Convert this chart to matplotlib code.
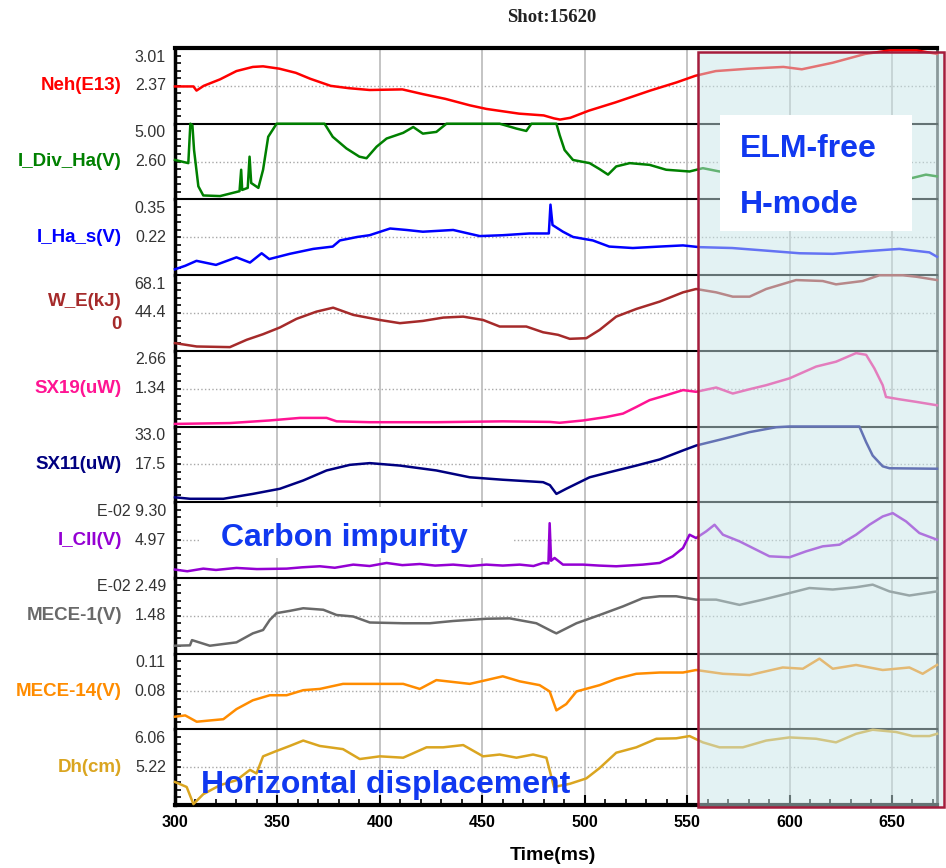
import numpy as np
import matplotlib.pyplot as plt
from matplotlib.patches import Rectangle
from matplotlib.ticker import MultipleLocator

plt.rcParams['font.family'] = ['Liberation Sans', 'DejaVu Sans']

# panel labels and the two y values printed on each panel
names = ['Neh(E13)', 'I_Div_Ha(V)', 'I_Ha_s(V)', 'W_E(kJ)\n0', 'SX19(uW)',
         'SX11(uW)', 'I_CII(V)', 'MECE-1(V)', 'MECE-14(V)', 'Dh(cm)']
top_labels = ['3.01', '5.00', '0.35', '68.1', '2.66', '33.0',
              'E-02 9.30', 'E-02 2.49', '0.11', '6.06']
mid_labels = ['2.37', '2.60', '0.22', '44.4', '1.34', '17.5',
              '4.97', '1.48', '0.08', '5.22']
top_vals = [3.01, 5.00, 0.35, 68.1, 2.66, 33.0, 9.30, 2.49, 0.11, 6.06]
mid_vals = [2.37, 2.60, 0.22, 44.4, 1.34, 17.5, 4.97, 1.48, 0.08, 5.22]
colors = ['#ff0000', '#008000', '#0000ff', '#a52a2a', '#ff1493',
          '#000080', '#9400d3', '#696969', '#ff8c00', '#daa520']

# traces (time in ms, value in panel units)
neh_t = [300, 309, 310.5, 314, 322, 330, 338, 343, 351, 359, 366, 376, 385, 395, 411, 421, 432, 444, 452, 460,
         468, 480, 485, 488, 493, 502, 515, 532, 545, 554, 564, 580, 597, 606, 621, 637, 649, 662, 672]
neh_v = [2.36, 2.36, 2.29, 2.37, 2.48, 2.62, 2.69, 2.70, 2.66, 2.59, 2.49, 2.37, 2.33, 2.30, 2.31, 2.23, 2.15, 2.04, 1.98, 1.94,
         1.90, 1.87, 1.82, 1.80, 1.83, 1.95, 2.09, 2.29, 2.43, 2.54, 2.62, 2.66, 2.69, 2.65, 2.76, 2.91, 2.97, 2.97, 2.91]

div_t = [300, 306.5, 307.5, 308.5, 309.3, 311.4, 313.8, 322, 331.5, 332.3, 332.8, 335.5, 336.4, 337.2, 340.7, 343, 345.5, 349.6,
         373, 377, 383.7, 390, 393.5, 398.4, 403.3, 411.4, 416.3, 421, 427.6, 432.5, 458.5, 466.7, 471.5, 474, 486.2, 487.8,
         490.2, 494.3, 502.4, 507.3, 511.4, 515.4, 522, 531.7, 539.8, 551.2, 557.7, 565.8, 590, 620, 645, 660, 666.6, 672]
div_v = [2.70, 2.50, 5.00, 4.90, 3.33, 1.03, 0.45, 0.41, 0.72, 2.08, 0.80, 0.93, 2.91, 1.24, 0.93, 2.08, 4.17, 5.00,
         5.00, 4.17, 3.43, 2.91, 2.81, 3.54, 4.06, 4.42, 4.79, 4.37, 4.48, 5.00, 5.00, 4.69, 4.54, 5.00, 5.00, 4.27,
         3.33, 2.70, 2.50, 2.12, 1.77, 2.29, 2.50, 2.39, 2.08, 1.97, 2.18, 1.97, 1.9, 1.8, 1.7, 1.56, 1.77, 1.66]

ha_t = [300, 305, 310.5, 320, 330, 336.6, 342.3, 346, 356, 367.5, 377, 380.5, 389, 395, 405, 413, 421, 435.8, 448.8, 460,
        473, 482.5, 483.3, 484.3, 489.4, 494.3, 504, 512, 523.5, 536.6, 548, 556, 572, 588.6, 604.9, 621.1, 637.4, 653.6, 668.3, 672]
ha_v = [0.110, 0.122, 0.139, 0.125, 0.151, 0.133, 0.165, 0.145, 0.163, 0.180, 0.188, 0.209, 0.221, 0.227, 0.250, 0.245, 0.239, 0.245, 0.224, 0.227,
        0.233, 0.233, 0.332, 0.262, 0.239, 0.221, 0.209, 0.188, 0.183, 0.188, 0.192, 0.186, 0.183, 0.174, 0.165, 0.163, 0.172, 0.180, 0.168, 0.153]

we_t = [300, 310.6, 326.8, 335, 343, 351.2, 359.3, 369, 377.2, 387, 400, 409.8, 421, 431, 440.7, 450.4, 458.5, 471.5, 479.7, 487,
        492.7, 500.8, 507.3, 515.4, 525.2, 536.6, 548, 554.4, 564.2, 572.3, 580.5, 588.6, 603.2, 616.2, 622.7, 635.7, 643.9, 655.3, 661.8, 672]
we_v = [25.5, 23.4, 23.0, 27.6, 31.1, 35.3, 40.7, 45.2, 47.7, 43.2, 40.0, 38.0, 39.4, 41.5, 42.1, 40.0, 35.9, 35.9, 32.3, 30.7,
        28.2, 28.6, 33.8, 42.1, 46.9, 51.5, 57.3, 59.4, 57.3, 54.6, 54.6, 59.4, 65.0, 64.4, 62.3, 64.4, 68.0, 68.0, 67.1, 65.0]

sx19_t = [300, 326.8, 346, 361, 374, 378.9, 395, 427.6, 460, 483, 487.8, 499.2, 510.5, 518.7, 525.2, 531.7, 539.8,
          548, 554.4, 564.2, 572.3, 580.5, 588.6, 600, 613, 622.7, 632.5, 637.4, 641.4, 645.5, 647.1, 653.6, 661.8, 672]
sx19_v = [0.11, 0.14, 0.23, 0.32, 0.32, 0.20, 0.17, 0.17, 0.20, 0.18, 0.15, 0.23, 0.35, 0.47, 0.70, 0.94, 1.11,
          1.29, 1.23, 1.38, 1.17, 1.32, 1.46, 1.70, 2.11, 2.28, 2.58, 2.52, 2.05, 1.46, 1.05, 0.97, 0.88, 0.76]

sx11_t = [300, 307.3, 323.6, 338, 351.2, 362.6, 374, 385.4, 395.1, 409.8, 427.6, 443.9, 460, 479.7, 483, 486.2, 491,
          502.4, 512.2, 525.2, 536.6, 548, 554.4, 567.5, 580.5, 593.5, 600, 634.1, 637.4, 640.6, 645.5, 648.8, 672]
sx11_v = [4.0, 3.4, 3.4, 5.4, 7.5, 10.9, 15.0, 17.3, 18.0, 17.0, 15.0, 12.2, 11.2, 10.2, 9.0, 5.4, 7.5,
          12.2, 14.3, 17.0, 19.5, 23.2, 25.2, 27.9, 30.7, 32.7, 33.0, 33.0, 26.6, 21.1, 16.7, 15.9, 15.7]

cii_t = [300, 306, 313.8, 320, 330, 340, 354.5, 362, 370.7, 378, 387, 395, 403.3, 411, 419.5, 427, 435.8, 444, 452, 460,
         468.3, 475, 479.7, 482.3, 482.9, 483.6, 485.3, 489.4, 499.2, 507, 515.4, 528.4, 536.6, 543, 548, 551.2, 554.4,
         559.3, 563.4, 567.5, 575.6, 583.7, 590.2, 600, 608.1, 616.2, 624.4, 632.5, 639, 645.5, 650.4, 656.9, 663.4, 672]
cii_v = [1.59, 1.40, 1.70, 1.55, 1.78, 1.65, 1.70, 1.85, 1.97, 1.80, 2.16, 2.00, 2.35, 2.10, 2.23, 2.05, 2.16, 2.00, 2.16, 2.05,
         2.16, 2.00, 2.35, 2.3, 6.9, 2.6, 2.92, 2.16, 2.16, 2.05, 1.97, 2.16, 2.35, 3.11, 4.06, 5.58, 5.20,
         5.96, 6.72, 5.58, 4.82, 3.87, 3.11, 3.00, 3.68, 4.25, 4.44, 5.58, 6.72, 7.67, 8.05, 7.10, 5.77, 5.01]

mece1_t = [300, 307.3, 308.3, 317, 330, 338, 343, 346.3, 349.6, 356, 362.6, 372.4, 378.9, 387, 395.1, 411.4, 424.4, 435.8,
           452, 463.4, 476.4, 484.6, 486.2, 496, 507.3, 518.7, 528.4, 536.6, 544.7, 554.4, 564.2, 575.6, 587, 596.7,
           609.7, 621.1, 632.5, 640.6, 648.8, 658.5, 672]
mece1_v = [0.68, 0.69, 0.83, 0.68, 0.77, 1.01, 1.10, 1.37, 1.55, 1.61, 1.68, 1.64, 1.50, 1.46, 1.30, 1.28, 1.28, 1.34,
           1.40, 1.41, 1.28, 1.05, 1.01, 1.28, 1.50, 1.73, 1.95, 2.00, 2.00, 1.91, 1.91, 1.77, 1.91, 2.04,
           2.22, 2.18, 2.24, 2.31, 2.13, 2.02, 2.13]

mece14_t = [300, 305, 310.6, 317, 323.6, 330, 338, 346.3, 354.5, 362.6, 370.7, 382, 395.1, 411.4, 419.5, 427.6, 443.9,
            452, 460, 468.3, 478, 482.9, 486.2, 491, 496, 507.3, 515.4, 525.2, 536.6, 548, 554.4, 567.5, 580.5,
            596.7, 606.5, 614.6, 621.1, 632.5, 645.5, 658.5, 665, 672]
mece14_v = [0.060, 0.061, 0.056, 0.057, 0.058, 0.066, 0.073, 0.077, 0.077, 0.081, 0.082, 0.086, 0.086, 0.086, 0.082, 0.089, 0.086,
            0.089, 0.092, 0.088, 0.085, 0.080, 0.065, 0.070, 0.080, 0.085, 0.090, 0.094, 0.095, 0.095, 0.097, 0.094, 0.093,
            0.099, 0.098, 0.106, 0.098, 0.101, 0.097, 0.099, 0.094, 0.101]

dh_t = [300, 305.7, 309, 313.8, 322, 330, 336.6, 339.8, 343, 349.6, 356, 362.6, 370.7, 382, 390.2, 400, 411.4, 422.8,
        430.9, 440.7, 450.4, 458.5, 466.7, 474.8, 481.3, 483.7, 485, 492.7, 500.8, 507.3, 515.4, 525.2, 535, 544.7,
        551.2, 557.7, 565.8, 577.2, 588.6, 600, 613, 622.7, 632.5, 640.6, 652, 660.1, 668.3, 672]
dh_v = [4.89, 4.78, 4.40, 4.62, 4.82, 4.93, 5.16, 5.08, 5.46, 5.58, 5.69, 5.81, 5.69, 5.62, 5.40, 5.46, 5.43, 5.66,
        5.66, 5.71, 5.46, 5.50, 5.43, 5.50, 5.43, 5.01, 4.78, 4.85, 4.97, 5.20, 5.54, 5.66, 5.85, 5.86,
        5.91, 5.77, 5.66, 5.66, 5.81, 5.88, 5.85, 5.77, 5.96, 6.05, 6.00, 5.91, 5.91, 5.96]

series = [(neh_t, neh_v), (div_t, div_v), (ha_t, ha_v), (we_t, we_v), (sx19_t, sx19_v),
          (sx11_t, sx11_v), (cii_t, cii_v), (mece1_t, mece1_v), (mece14_t, mece14_v), (dh_t, dh_v)]

W, H = 946, 868
fig = plt.figure(figsize=(W / 100, H / 100), dpi=100)
axes = fig.subplots(10, 1, sharex=True,
                    gridspec_kw=dict(hspace=0, left=175 / W, right=937 / W,
                                     top=1 - 48 / H, bottom=1 - 805 / H))

for i, ax in enumerate(axes):
    t, v = series[i]
    top, mid = top_vals[i], mid_vals[i]
    lo = 2 * mid - top
    ax.plot(t, v, color=colors[i], lw=1.8, clip_on=False, zorder=3)
    ax.set_ylim(lo, top)
    ax.set_xlim(300, 672)
    ax.set_yticks(np.linspace(lo, top, 11))
    ax.tick_params(axis='y', direction='in', length=4, width=1.2, labelleft=False)
    ax.axhline(mid, color='#a8a8a8', ls=':', lw=1, zorder=1)
    ax.xaxis.set_major_locator(MultipleLocator(50))
    ax.xaxis.set_minor_locator(MultipleLocator(10))
    ax.grid(True, axis='x', which='major', color='#c4c4c4', lw=1.4, zorder=0)

    ax.spines['left'].set_linewidth(2.5)
    ax.spines['top'].set_linewidth(3 if i == 0 else 1.5)
    ax.spines['right'].set_color('#4d4d4d')
    ax.spines['right'].set_linewidth(2)
    if i < 9:
        ax.spines['bottom'].set_visible(False)
        ax.tick_params(axis='x', which='both', bottom=False)
    else:
        ax.spines['bottom'].set_linewidth(3)

    ax.text(-0.012, 1 - 9 / 75.7, top_labels[i], transform=ax.transAxes,
            ha='right', va='center', fontsize=11.5, color='#333333')
    ax.text(-0.012, 0.5, mid_labels[i], transform=ax.transAxes,
            ha='right', va='center', fontsize=11.5, color='#333333')
    ax.text(-0.0696, 0.5, names[i], transform=ax.transAxes, ha='right', va='center',
            multialignment='right', fontsize=13.5, fontweight='bold', color=colors[i],
            linespacing=1.5)

bx = axes[-1]
bx.tick_params(axis='x', which='major', direction='in', length=7, width=1.5, labelsize=11.5, pad=7)
bx.tick_params(axis='x', which='minor', direction='in', length=4, width=1.2)
for lbl in bx.get_xticklabels():
    lbl.set_fontweight('bold')

# annotations
blue = '#1038f0'
cx = axes[6]
cx.add_patch(Rectangle((0.033, 0.26), 0.411, 0.67, transform=cx.transAxes,
                       fc='white', ec='none', zorder=2))
cx.text(0.0604, 0.42, 'Carbon impurity', transform=cx.transAxes, va='baseline',
        fontsize=23, fontweight='bold', color=blue, zorder=4)
axes[9].text(0.0337, 0.16, 'Horizontal displacement', transform=axes[9].transAxes,
             va='baseline', fontsize=23, fontweight='bold', color=blue, zorder=4)

# ELM-free H-mode shaded window
fig.add_artist(Rectangle((697.5 / W, 1 - 807 / H), (944 - 697.5) / W, (807 - 52) / H,
                         transform=fig.transFigure, fc=(0.79, 0.90, 0.91, 0.5),
                         ec='#a51c3c', lw=1.8, zorder=5))
fig.add_artist(Rectangle((720 / W, 1 - 231 / H), 192 / W, 116 / H,
                         transform=fig.transFigure, fc='white', ec='none', zorder=6))
fig.text(740 / W, 1 - 157 / H, 'ELM-free', va='baseline', fontsize=23,
         fontweight='bold', color=blue, zorder=7)
fig.text(740 / W, 1 - 213 / H, 'H-mode', va='baseline', fontsize=23,
         fontweight='bold', color=blue, zorder=7)

fig.text(552 / W, 1 - 17 / H, 'Shot:15620', ha='center', va='center',
         family='Liberation Serif', fontweight='bold', fontsize=13.5, color='#222222')
fig.text(553 / W, 1 - 855 / H, 'Time(ms)', ha='center', va='center',
         fontsize=14, fontweight='bold')

fig.savefig('out.png', dpi=100)
